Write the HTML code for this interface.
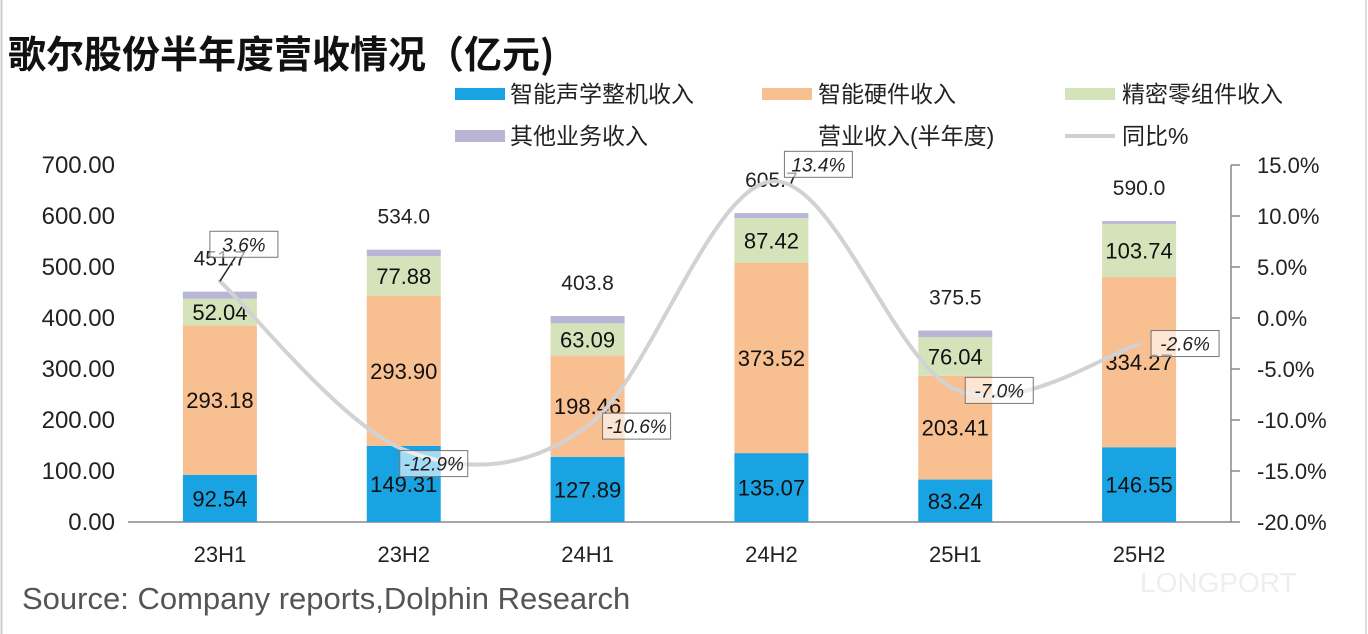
<!DOCTYPE html>
<html><head><meta charset="utf-8">
<style>
html,body{margin:0;padding:0;background:#fff;}
svg{display:block;font-family:"Liberation Sans","Noto Sans CJK SC",sans-serif;}
</style></head>
<body>
<svg id="chart" width="1368" height="634" viewBox="0 0 1368 634" xmlns="http://www.w3.org/2000/svg">
<rect x="0" y="0" width="1368" height="634" fill="#fff"/>
<line x1="1.5" y1="0" x2="1.5" y2="634" stroke="#ccc" stroke-width="2"/>
<line x1="1366" y1="0" x2="1366" y2="634" stroke="#ddd" stroke-width="2"/>
<text x="8" y="68" font-size="38" font-weight="bold" fill="#111" font-family="'Noto Sans CJK SC',sans-serif">歌尔股份半年度营收情况（亿元)</text>
<g id="legend" font-size="23" fill="#222" font-family="'Liberation Sans','Noto Sans CJK SC',sans-serif">
<g><rect x="455" y="88" width="50" height="12" fill="#1aa3e3"/><text x="510" y="102">智能声学整机收入</text></g>
<g><rect x="762" y="88" width="50" height="12" fill="#f8bf90"/><text x="818" y="102">智能硬件收入</text></g>
<g><rect x="1065" y="88" width="50" height="12" fill="#d5e3bb"/><text x="1122" y="102">精密零组件收入</text></g>
<g><rect x="455" y="130" width="50" height="12" fill="#b9b5d6"/><text x="510" y="144">其他业务收入</text></g>
<g><text x="818" y="144">营业收入(半年度)</text></g>
<g><line x1="1065" y1="136" x2="1115" y2="136" stroke="#cfcfcf" stroke-width="4"/><text x="1122" y="144">同比%</text></g>
</g>
<g id="axes"></g>
<g id="bars"></g>
<g id="line"></g>
<text x="22" y="609" font-size="31" fill="#555">Source: Company reports,Dolphin Research</text>
<text x="1140" y="592" font-size="28" fill="#eee">LONGPORT</text>
</svg>
<script>
const categories = ["23H1","23H2","24H1","24H2","25H1","25H2"];
const acoustic = [92.54,149.31,127.89,135.07,83.24,146.55];
const hardware = [293.18,293.90,198.46,373.52,203.41,334.27];
const components = [52.04,77.88,63.09,87.42,76.04,103.74];
const other = [13.9,12.9,14.4,9.7,12.8,5.4];
const totals = [451.7,534.0,403.8,605.7,375.5,590.0];
const yoy = [3.6,-12.9,-10.6,13.4,-7.0,-2.6];
const leftTicks = [0,100,200,300,400,500,600,700];
const rightTicks = [15,10,5,0,-5,-10,-15,-20];
{
const NS="http://www.w3.org/2000/svg";
function mk(tag,attrs,parent,txt){const e=document.createElementNS(NS,tag);for(const k in attrs)e.setAttribute(k,attrs[k]);if(txt!==undefined)e.textContent=txt;parent.appendChild(e);return e;}
const yTop=165,yBot=522,x0=128,x1=1231;
const yL=v=>yBot-(v/700)*(yBot-yTop);
const yR=v=>yBot-((v+20)/35)*(yBot-yTop);
const bw=(x1-x0)/categories.length;
const xC=i=>x0+bw*(i+0.5);
const axes=document.getElementById('axes');
let l=mk('line',{x1:x0,y1:yBot,x2:x1,y2:yBot,stroke:'#888','stroke-width':1.5},axes);


l=mk('line',{x1:x1,y1:yTop,x2:x1,y2:yBot,stroke:'#888','stroke-width':1.5},axes);


leftTicks.forEach(v=>{const t=mk('text',{x:115,y:yL(v)+8,'font-size':24,fill:'#222','text-anchor':'end'},axes,v.toFixed(2));

});
rightTicks.forEach(v=>{mk('line',{x1:x1,y1:yR(v),x2:x1+9,y2:yR(v),stroke:'#888','stroke-width':1.5},axes);
const t=mk('text',{x:1257,y:yR(v)+8,'font-size':22,fill:'#222'},axes,v.toFixed(1)+'%');

});
categories.forEach((c,i)=>{const t=mk('text',{x:xC(i),y:562,'font-size':22,fill:'#222','text-anchor':'middle'},axes,c);

});

const bars=document.getElementById('bars');
const series=[[acoustic,'#1aa3e3','acoustic'],[hardware,'#f8bf90','hardware'],[components,'#d5e3bb','components'],[other,'#b9b5d6','other']];
const W=74;
categories.forEach((c,i)=>{let base=0;
series.forEach(([arr,col,nm],si)=>{const v=arr[i];const yt=yL(base+v),yb=yL(base);
const r=mk('rect',{x:xC(i)-W/2,y:yt,width:W,height:yb-yt,fill:col},bars);


if(si<3){const t=mk('text',{x:xC(i),y:(yt+yb)/2+8,'font-size':22,fill:'#111','text-anchor':'middle'},bars,v.toFixed(2));

}
base+=v;});
const t=mk('text',{x:xC(i),y:yL(totals[i])-26,'font-size':21,fill:'#222','text-anchor':'middle'},bars,totals[i].toFixed(1));

});

const lg=document.getElementById('line');
const pts=yoy.map((v,i)=>[xC(i),yR(v)]);
let d='M'+pts[0][0]+','+pts[0][1];
for(let i=0;i<pts.length-1;i++){const p0=pts[Math.max(i-1,0)],p1=pts[i],p2=pts[i+1],p3=pts[Math.min(i+2,pts.length-1)];
const k=1/6;d+=' C'+(p1[0]+(p2[0]-p0[0])*k)+','+(p1[1]+(p2[1]-p0[1])*k)+' '+(p2[0]-(p3[0]-p1[0])*k)+','+(p2[1]-(p3[1]-p1[1])*k)+' '+p2[0]+','+p2[1];}
const path=mk('path',{d:d,fill:'none',stroke:'#d2d2d2','stroke-width':4,'stroke-linecap':'round'},lg);


const offs=[[24,-37],[30,14],[49,0],[47,-17],[44,1],[46,-1]];
yoy.forEach((v,i)=>{const cx=pts[i][0]+offs[i][0],cy=pts[i][1]+offs[i][1];
if(i===0)mk('line',{x1:pts[i][0],y1:pts[i][1],x2:cx-8,y2:cy+12,stroke:'#222','stroke-width':1.5},lg);
const r=mk('rect',{x:cx-34,y:cy-13,width:68,height:26,fill:'rgba(255,255,255,0.6)',stroke:'#777','stroke-width':1},lg);


const t=mk('text',{x:cx,y:cy+7,'font-size':19,'font-style':'italic',fill:'#222','text-anchor':'middle'},lg,v.toFixed(1)+'%');

});
}
</script>
</body></html>
